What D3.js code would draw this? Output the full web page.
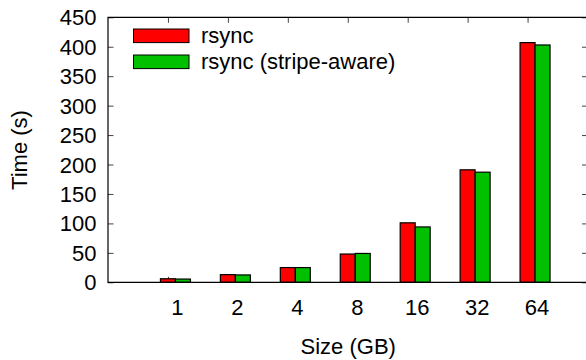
<!DOCTYPE html>
<html lang="en">
<head>
    <meta charset="UTF-8">
    <title>rsync timing</title>
    <script src="https://d3js.org/d3.v7.min.js"></script>
    <style>
        body { margin: 0; background: #fff; }
        svg text { font-family: "Liberation Sans", Arial, sans-serif; font-size: 22px; fill: #000; }
    </style>
</head>
<body>
    <div id="chart"></div>

    <script>
        // data
        const sizes = ["1", "2", "4", "8", "16", "32", "64"];
        const rsyncTimes = [6, 13, 25, 48, 101, 191, 407];
        const stripeTimes = [5.5, 12.5, 25, 49, 94, 187, 403];
        const seriesNames = ["rsync", "rsync (stripe-aware)"];
        const seriesColors = ["#ff0000", "#00c000"];
        const yTicks = d3.range(0, 451, 50);

        const width = 586;
        const height = 360;
        const plotL = 108, plotR = 587.5, plotT = 17.3, plotB = 282.3;

        const svg = d3.select("#chart")
            .append("svg")
            .attr("width", width)
            .attr("height", height);

        // gnuplot-style: cluster index on a linear axis from -1 to 7
        const x = d3.scaleLinear().domain([-1, sizes.length]).range([plotL, plotR]);
        const y = d3.scaleLinear().domain([0, 450]).range([plotB, plotT]);
        const barW = 0.25;

        // axes (ticks mirrored on all four sides)
        const xAxis = svg.append("g")
            .attr("transform", `translate(0,${plotB})`)
            .call(d3.axisBottom(x).tickValues(d3.range(sizes.length))
                .tickFormat(i => sizes[i]).tickSize(-5.5).tickPadding(0));
        xAxis.select(".domain").remove();
        xAxis.selectAll("text")
            .attr("dx", 9)
            .attr("y", 33)
            .attr("dy", 0);

        const xTop = svg.append("g")
            .attr("transform", `translate(0,${plotT})`)
            .call(d3.axisTop(x).tickValues(d3.range(sizes.length))
                .tickFormat("").tickSize(-5.5));
        xTop.select(".domain").remove();

        const yAxis = svg.append("g")
            .attr("transform", `translate(${plotL},0)`)
            .call(d3.axisLeft(y).tickValues(yTicks).tickSize(-5.5).tickPadding(12));
        yAxis.select(".domain").remove();
        yAxis.selectAll("text").attr("x", -11.5).attr("dy", "0.34em");

        const yRight = svg.append("g")
            .attr("transform", `translate(${plotR},0)`)
            .call(d3.axisRight(y).tickValues(yTicks).tickFormat("").tickSize(-5.5));
        yRight.select(".domain").remove();

        svg.selectAll(".tick line").attr("stroke", "#444").attr("stroke-width", 1);

        // bars
        const series = [rsyncTimes, stripeTimes];
        series.forEach((vals, s) => {
            svg.append("g")
                .selectAll("rect")
                .data(vals)
                .enter().append("rect")
                .attr("x", (d, i) => x(i - barW / 2 + s * barW))
                .attr("width", x(barW) - x(0))
                .attr("y", d => y(d))
                .attr("height", d => y(0) - y(d))
                .attr("fill", seriesColors[s])
                .attr("stroke", "#000")
                .attr("stroke-width", 1.2);
        });

        // border
        svg.append("path")
            .attr("d", `M${plotR},${plotB}L${plotL},${plotB}L${plotL},${plotT}L${plotR},${plotT}Z`)
            .attr("fill", "none")
            .attr("stroke", "#000")
            .attr("stroke-width", 1.2);

        // axis titles
        svg.append("text")
            .attr("x", (plotL + plotR) / 2 + 0.5)
            .attr("y", 354)
            .attr("text-anchor", "middle")
            .text("Size (GB)");

        svg.append("text")
            .attr("transform", "translate(26.5,150) rotate(-90)")
            .attr("text-anchor", "middle")
            .text("Time (s)");

        // legend
        const legend = svg.append("g");
        seriesNames.forEach((name, s) => {
            const cy = 35.8 + s * 26;
            legend.append("rect")
                .attr("x", 133.5)
                .attr("y", cy - 6.8)
                .attr("width", 55.5)
                .attr("height", 13.6)
                .attr("fill", seriesColors[s])
                .attr("stroke", "#000")
                .attr("stroke-width", 1);
            legend.append("text")
                .attr("x", 201)
                .attr("y", cy)
                .attr("dy", "0.34em")
                .text(name);
        });
    </script>
</body>
</html>
